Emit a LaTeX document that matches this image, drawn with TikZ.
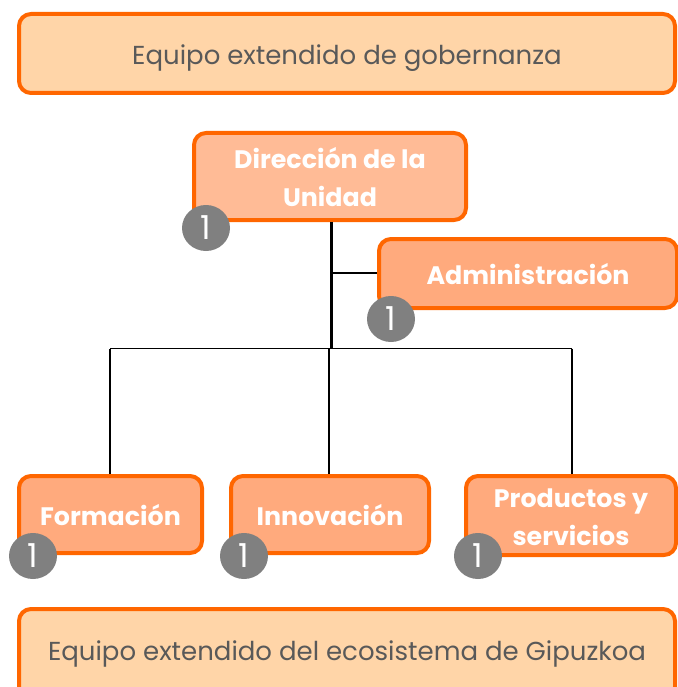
\documentclass[tikz,border=0pt]{standalone}
\usepackage{fontspec}
\setmainfont{Poppins}
\definecolor{borange}{HTML}{FF6600}
\definecolor{lightfill}{HTML}{FFD5A8}
\definecolor{dirfill}{HTML}{FFBB96}
\definecolor{unitfill}{HTML}{FFAA7D}
\definecolor{txtgray}{HTML}{595959}
\definecolor{badgegray}{HTML}{808080}
\tikzset{
  wide/.style={draw=borange, line width=4pt, fill=lightfill, rounded corners=12pt,
    text=txtgray, font=\fontsize{26}{30}\selectfont, inner sep=0pt},
  unitbox/.style={draw=borange, line width=4pt, fill=unitfill, rounded corners=12pt,
    text=white, font=\fontsize{25.3}{37.5}\selectfont\bfseries, align=center, inner sep=0pt},
  badge/.style={ellipse, fill=badgegray, minimum width=48pt, minimum height=46pt, inner sep=0pt,
    text=white, font=\fontsize{33}{33}\selectfont},
  thin/.style={line width=1.5pt},
  thick/.style={line width=3pt}
}
\usetikzlibrary{shapes.geometric}
\begin{document}
\begin{tikzpicture}[x=1pt,y=-1pt]
\useasboundingbox (0,0) rectangle (677,687);
% wide boxes
\node[wide, minimum width=656pt, minimum height=79pt, text height=23pt, text depth=0pt] (gob) at (347,53.5) {Equipo extendido de gobernanza};
\node[wide, minimum width=656pt, minimum height=90pt, text height=12pt, text depth=0pt] (eco) at (347,654) {Equipo extendido del ecosistema de Gipuzkoa};
% unit boxes
\node[unitbox, fill=dirfill, minimum width=272pt, minimum height=87pt, text height=59pt, text depth=0pt] (dir) at (330,176.5) {Dirección de la\\Unidad};
\node[unitbox, minimum width=298pt, minimum height=69pt, text height=21pt, text depth=0pt] (adm) at (528,273.5) {Administración};
\node[unitbox, minimum width=183pt, minimum height=77pt, text height=21pt, text depth=0pt] (for) at (110.5,514.5) {Formación};
\node[unitbox, minimum width=198pt, minimum height=77pt, text height=21pt, text depth=0pt] (inn) at (330,514.5) {Innovación};
\node[unitbox, minimum width=210pt, minimum height=79pt, text height=59pt, text depth=0pt] (pro) at (571,515.5) {Productos y\\servicios};
% connectors
\coordinate (j1) at (331,273);
\coordinate (j2) at (331,349);
\coordinate (l) at (110,348.5);
\coordinate (r) at (572,348.5);
\draw[thick] (dir.south -| j1) -- (j2);
\draw[thin] (j1) -- (adm.west |- j1);
\draw[thin] (l) -- (r);
\draw[thin] (l) -- (for.north -| l);
\draw[thin] (329,348.5) -- (inn.north -| 329,0);
\draw[thin] (r) -- (pro.north -| r);
% badges
\node[badge] (b1) at (206,228) {1};
\node[badge] (b2) at (391,319) {1};
\node[badge] (b3) at (33,556) {1};
\node[badge] (b4) at (244,556) {1};
\node[badge] (b5) at (478,556) {1};
\end{tikzpicture}
\end{document}
